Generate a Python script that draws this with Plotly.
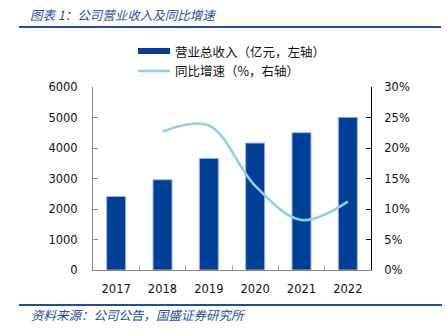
import plotly.graph_objects as go

years = ["2017", "2018", "2019", "2020", "2021", "2022"]
revenue = [2410, 2957, 3658, 4162, 4502, 5005]
growth_years = ["2018", "2019", "2020", "2021", "2022"]
growth = [0.227, 0.237, 0.138, 0.082, 0.112]

title_text = "图表 1：公司营业收入及同比增速"
source_text = "资料来源：公司公告，国盛证券研究所"
legend_bar = "营业总收入（亿元，左轴）"
legend_line = "同比增速（%，右轴）"

W, H = 447, 335
L, R, T, B = 93, 76, 87, 65
pw, ph = W - L - R, H - T - B

def px(x):
    return (x - L) / pw

def py(y):
    return (H - B - y) / ph

BLUE = "#003F98"
LIGHT = "#8FD0E8"
TBLUE = "#1F4E9A"
CJK = "Noto Sans CJK SC"
NUM = "DejaVu Sans"

fig = go.Figure()
fig.add_trace(go.Bar(x=years, y=revenue, marker=dict(color=BLUE, line=dict(color="#9DB4DA", width=1)),
                     width=0.41, showlegend=False, yaxis="y"))
fig.add_trace(go.Scatter(x=growth_years, y=growth, mode="lines",
                         line=dict(color=LIGHT, width=2.6, shape="spline", smoothing=1.0),
                         showlegend=False, yaxis="y2"))

shapes = [
    dict(type="line", xref="paper", yref="paper", x0=px(19), x1=px(441), y0=py(27), y1=py(27),
         line=dict(color=TBLUE, width=2)),
    dict(type="line", xref="paper", yref="paper", x0=px(19), x1=px(442), y0=py(305), y1=py(305),
         line=dict(color=TBLUE, width=2)),
    dict(type="rect", xref="paper", yref="paper", x0=px(138), x1=px(170), y0=py(54), y1=py(48),
         fillcolor=BLUE, line=dict(width=0)),
    dict(type="line", xref="paper", yref="paper", x0=px(138), x1=px(170), y0=py(71), y1=py(71),
         line=dict(color=LIGHT, width=2.6)),
]

annotations = [
    dict(text=title_text, xref="paper", yref="paper", x=px(28), y=py(14), xanchor="left", yanchor="middle",
         showarrow=False, font=dict(family=CJK, size=12.5, color=TBLUE, style="italic")),
    dict(text=source_text, xref="paper", yref="paper", x=px(29), y=py(314), xanchor="left", yanchor="middle",
         showarrow=False, font=dict(family=CJK, size=12.5, color=TBLUE, style="italic")),
    dict(text=legend_bar, xref="paper", yref="paper", x=px(173), y=py(51), xanchor="left", yanchor="middle",
         showarrow=False, font=dict(family=CJK, size=12.5, color="#111")),
    dict(text=legend_line, xref="paper", yref="paper", x=px(173), y=py(71), xanchor="left", yanchor="middle",
         showarrow=False, font=dict(family=CJK, size=12.5, color="#111")),
]

fig.update_layout(
    width=W, height=H, margin=dict(l=L, r=R, t=T, b=B, pad=0),
    paper_bgcolor="white", plot_bgcolor="white", showlegend=False,
    font=dict(family=NUM, size=11, color="#111"),
    bargap=0.59,
    xaxis=dict(type="category", showgrid=False, showline=True, linecolor="#888", linewidth=1,
               ticks="inside", tickson="boundaries", ticklen=5, tickcolor="#AAA",
               tickfont=dict(family=NUM, size=11.5), ticklabelstandoff=8, mirror=False),
    yaxis=dict(range=[0, 6000], dtick=1000, showgrid=False, zeroline=False, showline=True,
               linecolor="#888", linewidth=1, ticks="inside", ticklen=5, tickcolor="#888",
               tickfont=dict(family=NUM, size=11.5), ticklabelstandoff=12, tickformat="d"),
    yaxis2=dict(range=[0, 0.30], dtick=0.05, overlaying="y", side="right", showgrid=False,
                zeroline=False, showline=True, linecolor="#000", linewidth=1, ticks="inside",
                ticklen=5, tickcolor="#000", tickformat=".0%",
                tickfont=dict(family=NUM, size=11.5), ticklabelstandoff=10),
    shapes=shapes, annotations=annotations,
)

fig.write_html("out.html")
